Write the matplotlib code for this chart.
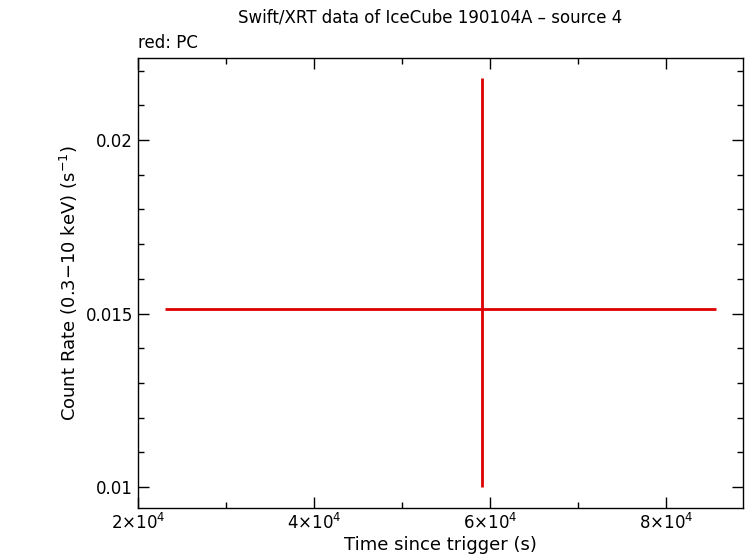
import matplotlib
matplotlib.use("Agg")
import matplotlib.pyplot as plt
from matplotlib.ticker import FixedLocator, MultipleLocator

t = [59090]
t_lo = [36020]
t_hi = [26590]
rate = [0.01514]
r_lo = [0.00514]
r_hi = [0.00665]
xticks = [20000, 40000, 60000, 80000]
xlabels = [r"2$\times$10$^4$", r"4$\times$10$^4$", r"6$\times$10$^4$", r"8$\times$10$^4$"]
yticks = [0.01, 0.015, 0.02]
ylabels = ["0.01", "0.015", "0.02"]

fig = plt.figure(figsize=(7.46, 5.58), dpi=100)
ax = fig.add_axes([138/746, 1-508/558, 605/746, 450/558])
ax.errorbar(t, rate, xerr=[t_lo, t_hi], yerr=[r_lo, r_hi], fmt="none", ecolor="#dd0000", elinewidth=2, capsize=0)
ax.set_xlim(20000, 88750)
ax.set_ylim(0.00940, 0.02236)
ax.xaxis.set_major_locator(FixedLocator(xticks))
ax.set_xticklabels(xlabels)
ax.xaxis.set_minor_locator(MultipleLocator(10000))
ax.yaxis.set_major_locator(FixedLocator(yticks))
ax.set_yticklabels(ylabels)
ax.yaxis.set_minor_locator(MultipleLocator(0.001))
ax.tick_params(which="both", direction="in", top=True, right=True, labelsize=12)
ax.tick_params(which="major", length=8, width=1)
ax.tick_params(which="minor", length=4, width=1)
for s in ax.spines.values():
    s.set_linewidth(1)
ax.set_xlabel("Time since trigger (s)", fontsize=13, labelpad=2)
ax.set_ylabel(r"Count Rate (0.3$-$10 keV) (s$^{-1}$)", fontsize=13)
fig.text(430/746, 1-18/558, "Swift/XRT data of IceCube 190104A \u2013 source 4", ha="center", va="center", fontsize=12)
fig.text(138/746, 1-43/558, "red: PC", ha="left", va="center", fontsize=12)
fig.savefig("out.png", dpi=100)
